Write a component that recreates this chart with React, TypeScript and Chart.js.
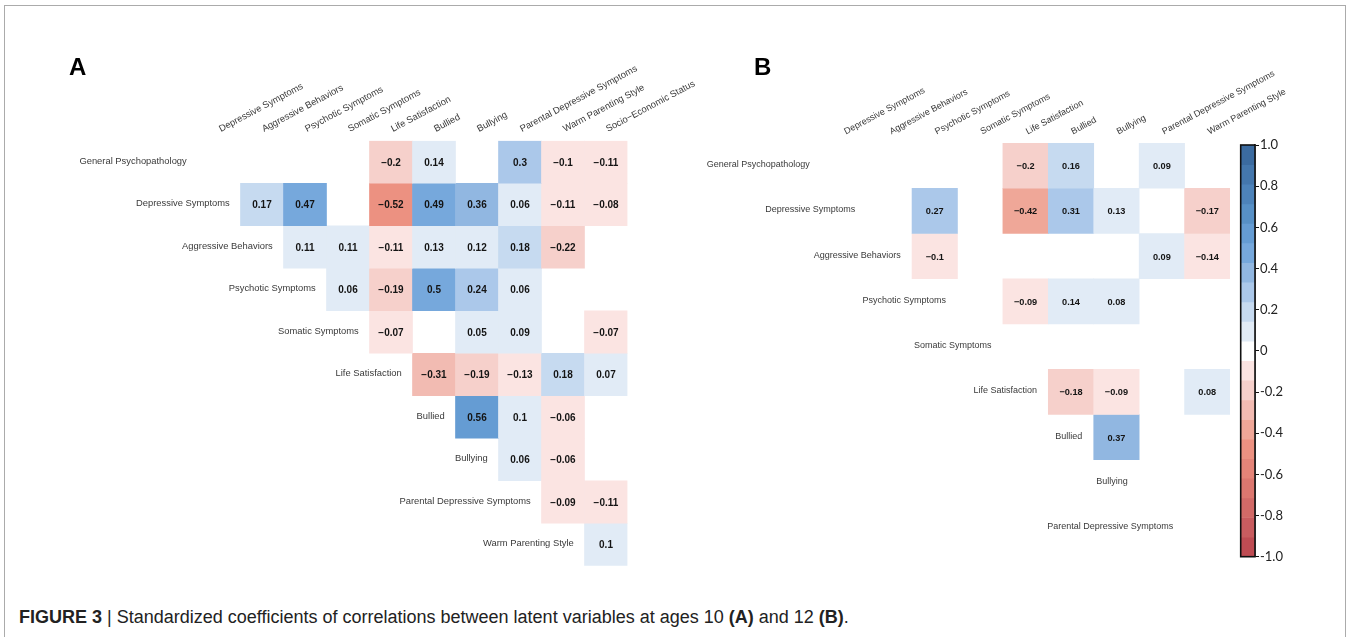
import React, { useEffect, useRef } from "react";
import { Chart, registerables } from "chart.js";

Chart.register(...registerables);

// ---------- Panel A (age 10) ----------
const COLS_A = [
  "Depressive Symptoms",
  "Aggressive Behaviors",
  "Psychotic Symptoms",
  "Somatic Symptoms",
  "Life Satisfaction",
  "Bullied",
  "Bullying",
  "Parental Depressive Symptoms",
  "Warm Parenting Style",
  "Socio\u2212Economic Status",
];
const ROWS_A = [
  "General Psychopathology",
  "Depressive Symptoms",
  "Aggressive Behaviors",
  "Psychotic Symptoms",
  "Somatic Symptoms",
  "Life Satisfaction",
  "Bullied",
  "Bullying",
  "Parental Depressive Symptoms",
  "Warm Parenting Style",
];
const A_GENERAL = [null, null, null, null, -0.2, 0.14, null, 0.3, -0.1, -0.11];
const A_DEPRESSIVE = [null, 0.17, 0.47, null, -0.52, 0.49, 0.36, 0.06, -0.11, -0.08];
const A_AGGRESSIVE = [null, null, 0.11, 0.11, -0.11, 0.13, 0.12, 0.18, -0.22, null];
const A_PSYCHOTIC = [null, null, null, 0.06, -0.19, 0.5, 0.24, 0.06, null, null];
const A_SOMATIC = [null, null, null, null, -0.07, null, 0.05, 0.09, null, -0.07];
const A_LIFESAT = [null, null, null, null, null, -0.31, -0.19, -0.13, 0.18, 0.07];
const A_BULLIED = [null, null, null, null, null, null, 0.56, 0.1, -0.06, null];
const A_BULLYING = [null, null, null, null, null, null, null, 0.06, -0.06, null];
const A_PARENTAL = [null, null, null, null, null, null, null, null, -0.09, -0.11];
const A_WARM = [null, null, null, null, null, null, null, null, null, 0.1];
const VALUES_A = [
  A_GENERAL, A_DEPRESSIVE, A_AGGRESSIVE, A_PSYCHOTIC, A_SOMATIC,
  A_LIFESAT, A_BULLIED, A_BULLYING, A_PARENTAL, A_WARM,
];

// ---------- Panel B (age 12) ----------
const COLS_B = [
  "Depressive Symptoms",
  "Aggressive Behaviors",
  "Psychotic Symptoms",
  "Somatic Symptoms",
  "Life Satisfaction",
  "Bullied",
  "Bullying",
  "Parental Depressive Symptoms",
  "Warm Parenting Style",
];
const ROWS_B = [
  "General Psychopathology",
  "Depressive Symptoms",
  "Aggressive Behaviors",
  "Psychotic Symptoms",
  "Somatic Symptoms",
  "Life Satisfaction",
  "Bullied",
  "Bullying",
  "Parental Depressive Symptoms",
];
const B_GENERAL = [null, null, null, null, -0.2, 0.16, null, 0.09, null];
const B_DEPRESSIVE = [null, null, 0.27, null, -0.42, 0.31, 0.13, null, -0.17];
const B_AGGRESSIVE = [null, null, -0.1, null, null, null, null, 0.09, -0.14];
const B_PSYCHOTIC = [null, null, null, null, -0.09, 0.14, 0.08, null, null];
const B_SOMATIC = [null, null, null, null, null, null, null, null, null];
const B_LIFESAT = [null, null, null, null, null, -0.18, -0.09, null, 0.08];
const B_BULLIED = [null, null, null, null, null, null, 0.37, null, null];
const B_BULLYING = [null, null, null, null, null, null, null, null, null];
const B_PARENTAL = [null, null, null, null, null, null, null, null, null];
const VALUES_B = [
  B_GENERAL, B_DEPRESSIVE, B_AGGRESSIVE, B_PSYCHOTIC, B_SOMATIC,
  B_LIFESAT, B_BULLIED, B_BULLYING, B_PARENTAL,
];

// ---------- Colour scale (21 bands from +1 down to -1) ----------
const CB_TICKS = [-1, -0.8, -0.6, -0.4, -0.2, 0, 0.2, 0.4, 0.6, 0.8, 1];
const CB_COLORS = [
  "#3b6ba0", "#4477ad", "#4d83ba", "#5790c6", "#659cd3", "#76a8dc",
  "#91b7e1", "#abc8ea", "#c6daf0", "#e1ebf6", "#ffffff",
  "#fbe4e2", "#f6d0cb", "#f2bbb2", "#efa798", "#ec9181",
  "#e48478", "#dc776f", "#d26a67", "#c95c5f", "#bf4c53",
];
const BAND = 2 / CB_COLORS.length;

function colorFor(v: number): string {
  let k = Math.floor((1 - v) / BAND);
  k = Math.max(0, Math.min(CB_COLORS.length - 1, k));
  return CB_COLORS[k];
}

function fmt(v: number): string {
  return v < 0 ? "\u2212" + String(Math.abs(v)) : String(v);
}

const FONT = "'Liberation Sans', Arial, sans-serif";

type Geo = {
  width: number;
  height: number;
  padLeft: number;
  padRight: number;
  axisTop: number;
  padBottom: number;
  labelSize: number;
  valueSize: number;
  headerSize: number;
};

function heatmapConfig(cols: string[], rows: string[], values: (number | null)[][], g: Geo): any {
  const datasets = rows.map((name, r) => ({
    label: name,
    data: values[r].map((v) => (v == null ? null : [r - 0.5, r + 0.5])),
    backgroundColor: values[r].map((v) => (v == null ? "rgba(0,0,0,0)" : colorFor(v))),
    borderWidth: 0,
    grouped: false,
    barPercentage: 1,
    categoryPercentage: 1,
  }));

  const textPlugin = {
    id: "cellText",
    afterDatasetsDraw(chart: any) {
      const { ctx } = chart;
      const x = chart.scales.x;
      const y = chart.scales.y;
      const w = x.getPixelForValue(1) - x.getPixelForValue(0);
      ctx.save();
      ctx.textBaseline = "middle";
      rows.forEach((name: string, r: number) => {
        ctx.font = `${g.labelSize}px ${FONT}`;
        ctx.fillStyle = "#3a3a3a";
        ctx.textAlign = "right";
        ctx.fillText(name, x.getPixelForValue(r - 1) + w / 4, y.getPixelForValue(r) - 1);
        values[r].forEach((v, c) => {
          if (v == null) return;
          ctx.font = `bold ${g.valueSize}px ${FONT}`;
          ctx.fillStyle = "#141414";
          ctx.textAlign = "center";
          ctx.fillText(fmt(v), x.getPixelForValue(c), y.getPixelForValue(r) + 1);
        });
      });
      ctx.restore();
    },
  };

  return {
    type: "bar",
    data: { labels: cols, datasets },
    options: {
      responsive: false,
      animation: false,
      events: [],
      layout: { padding: { left: g.padLeft, right: g.padRight, top: 0, bottom: g.padBottom } },
      plugins: { legend: { display: false }, tooltip: { enabled: false } },
      scales: {
        x: {
          type: "category",
          position: "top",
          offset: true,
          grid: { display: false, drawTicks: false },
          border: { display: false },
          ticks: {
            autoSkip: false,
            minRotation: 28,
            maxRotation: 28,
            padding: 6,
            labelOffset: 6,
            color: "#3a3a3a",
            font: { size: g.headerSize, family: FONT },
          },
          afterFit: (s: any) => {
            s.height = g.axisTop;
          },
        },
        y: {
          type: "linear",
          min: -0.5,
          max: rows.length - 0.5,
          reverse: true,
          display: false,
        },
      },
    },
    plugins: [textPlugin],
  };
}

function colorbarConfig(): any {
  const datasets = CB_COLORS.map((col, k) => ({
    label: "band" + k,
    data: [[1 - (k + 1) * BAND, 1 - k * BAND]],
    backgroundColor: col,
    borderWidth: 0,
    grouped: false,
    barPercentage: 1,
    categoryPercentage: 1,
  }));
  const outline = {
    id: "outline",
    afterDatasetsDraw(chart: any) {
      const { ctx, chartArea: a } = chart;
      ctx.save();
      ctx.strokeStyle = "#111";
      ctx.lineWidth = 1.6;
      ctx.strokeRect(a.left, a.top, a.right - a.left, a.bottom - a.top);
      ctx.restore();
    },
  };
  return {
    type: "bar",
    data: { labels: [""], datasets },
    options: {
      responsive: false,
      animation: false,
      events: [],
      layout: { padding: { left: 40.7, right: 15, top: 45, bottom: 43.3 } },
      plugins: { legend: { display: false }, tooltip: { enabled: false } },
      scales: {
        x: { type: "category", display: false, offset: true },
        y: {
          type: "linear",
          position: "right",
          min: -1,
          max: 1,
          afterBuildTicks: (s: any) => {
            s.ticks = CB_TICKS.map((v) => ({ value: v }));
          },
          grid: { drawOnChartArea: false, drawTicks: true, tickLength: 4, color: "#111", lineWidth: 1 },
          border: { display: true, color: "#111", width: 1.5 },
          ticks: {
            padding: 1,
            color: "#222",
            font: { size: 13, family: "Lato, 'Open Sans', sans-serif" },
            callback: (v: any) => (Math.abs(v) < 1e-9 ? "0" : Number(v).toFixed(1)),
          },
          afterFit: (s: any) => {
            s.width = 30;
          },
        },
      },
    },
    plugins: [outline],
  };
}

const GEO_A: Geo = {
  width: 730,
  height: 600,
  padLeft: 197.5,
  padRight: 730 - 627.5,
  axisTop: 140.75,
  padBottom: 600 - 565.75,
  labelSize: 9.4,
  valueSize: 10,
  headerSize: 9.4,
};
const GEO_B: Geo = {
  width: 600,
  height: 600,
  padLeft: 121.2,
  padRight: 600 - 530,
  axisTop: 143,
  padBottom: 600 - 550.25,
  labelSize: 9,
  valueSize: 9.2,
  headerSize: 9,
};

export default function App() {
  const aRef = useRef<HTMLCanvasElement>(null);
  const bRef = useRef<HTMLCanvasElement>(null);
  const cRef = useRef<HTMLCanvasElement>(null);

  useEffect(() => {
    const charts = [
      new Chart(aRef.current as HTMLCanvasElement, heatmapConfig(COLS_A, ROWS_A, VALUES_A, GEO_A)),
      new Chart(bRef.current as HTMLCanvasElement, heatmapConfig(COLS_B, ROWS_B, VALUES_B, GEO_B)),
      new Chart(cRef.current as HTMLCanvasElement, colorbarConfig()),
    ];
    return () => charts.forEach((c) => c.destroy());
  }, []);

  const abs = (l: number, t: number, w: number, h: number): React.CSSProperties => ({
    position: "absolute",
    left: l,
    top: t,
    width: w,
    height: h,
  });

  return (
    <div
      style={{
        position: "absolute",
        left: 0,
        top: 0,
        width: 1351,
        height: 637,
        overflow: "hidden",
        background: "#fff",
        fontFamily: FONT,
      }}
    >
      <div
        style={{
          position: "absolute",
          left: 4,
          top: 5,
          width: 1342,
          height: 700,
          border: "1px solid #ababab",
          boxSizing: "border-box",
        }}
      />
      <canvas ref={aRef} width={GEO_A.width} height={GEO_A.height} style={abs(0, 0, GEO_A.width, GEO_A.height)} />
      <canvas ref={bRef} width={GEO_B.width} height={GEO_B.height} style={abs(700, 0, GEO_B.width, GEO_B.height)} />
      <canvas ref={cRef} width={100} height={500} style={abs(1200, 100, 100, 500)} />
      <div style={{ position: "absolute", left: 69, top: 53, fontSize: 24, fontWeight: "bold", color: "#000" }}>A</div>
      <div style={{ position: "absolute", left: 754, top: 53, fontSize: 24, fontWeight: "bold", color: "#000" }}>B</div>
      <div
        style={{
          position: "absolute",
          left: 19,
          top: 607,
          fontSize: 18,
          whiteSpace: "nowrap",
          color: "#222",
          fontFamily: "'Liberation Sans Narrow', 'Arial Narrow', 'Liberation Sans', sans-serif",
        }}
      >
        <b>FIGURE 3</b> | Standardized coefficients of correlations between latent variables at ages 10{" "}
        <b>(A)</b> and 12 <b>(B)</b>.
      </div>
    </div>
  );
}
